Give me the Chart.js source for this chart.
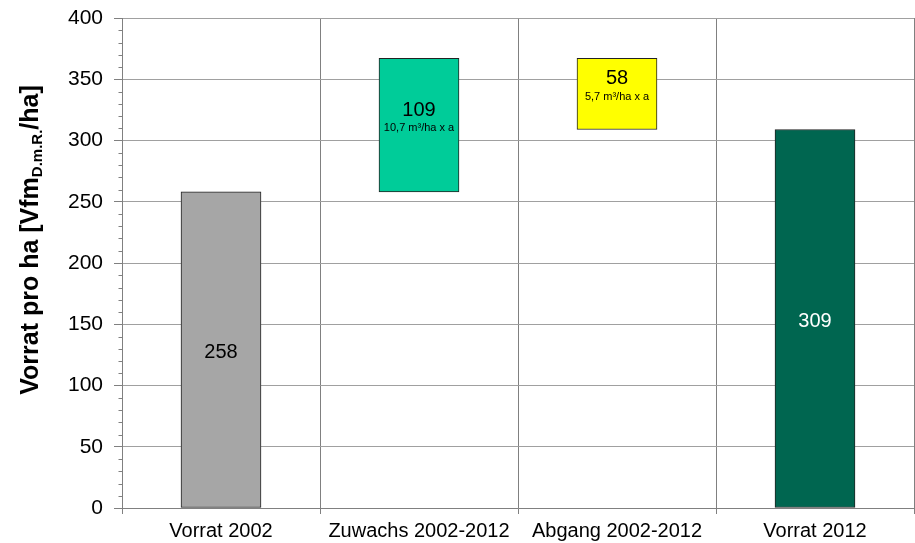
<!DOCTYPE html>
<html><head><meta charset="utf-8">
<script src="https://cdn.jsdelivr.net/npm/chart.js@4"></script>
<style>html,body{margin:0;padding:0;background:#fff}#wrap{width:915px;height:543px}</style>
</head><body><div id="wrap"><canvas id="c" width="915" height="543"></canvas></div>
<script>
const categories = ['Vorrat 2002', 'Zuwachs 2002-2012', 'Abgang 2002-2012', 'Vorrat 2012'];
const barStarts = [0, 258, 309, 0];
const barEnds = [258, 367, 367, 309];
const mainLabels = ['258', '109', '58', '309'];
const subLabels = ['', '10,7 m³/ha x a', '5,7 m³/ha x a', ''];
const barColors = ['#a6a6a6', '#00cc99', '#ffff00', '#006650'];
const labelColors = ['#000', '#000', '#000', '#fff'];
const yTicks = [0, 50, 100, 150, 200, 250, 300, 350, 400];
const yMinorStep = 10;

const FONT = '"Liberation Sans", Arial, sans-serif';

const labelPlugin = {
  id: 'barLabels',
  afterDatasetsDraw(chart) {
    const ctx = chart.ctx;
    const meta = chart.getDatasetMeta(0);
    ctx.save();
    ctx.textAlign = 'center';
    ctx.textBaseline = 'middle';
    meta.data.forEach((el, i) => {
      const cx = el.x;
      const mid = (el.y + el.base) / 2;
      ctx.fillStyle = labelColors[i];
      if (subLabels[i]) {
        ctx.font = '20px ' + FONT;
        ctx.fillText(mainLabels[i], cx, mid - 15);
        ctx.font = '11px ' + FONT;
        ctx.fillText(subLabels[i], cx, mid + 3);
      } else {
        ctx.font = '20px ' + FONT;
        ctx.fillText(mainLabels[i], cx, mid + 3);
      }
    });
    ctx.restore();
  }
};

const minorTickPlugin = {
  id: 'minorTicks',
  afterDraw(chart) {
    const y = chart.scales.y;
    const ctx = chart.ctx;
    const x0 = Math.round(chart.chartArea.left) + 0.5;
    ctx.save();
    ctx.strokeStyle = '#808080';
    ctx.lineWidth = 1;
    ctx.beginPath();
    for (let v = y.min; v <= y.max; v += yMinorStep) {
      if (yTicks.includes(v)) continue;
      const py = Math.round(y.getPixelForValue(v)) + 0.5;
      ctx.moveTo(x0 - 4, py);
      ctx.lineTo(x0, py);
    }
    ctx.stroke();
    ctx.restore();
  }
};

const yTitlePlugin = {
  id: 'yTitle',
  afterDraw(chart) {
    const ctx = chart.ctx;
    ctx.save();
    const parts = [
      {t: 'Vorrat pro ha [Vfm', f: 'bold 25px ' + FONT, dy: 0},
      {t: 'D.m.R.', f: 'bold 15px ' + FONT, dy: 7},
      {t: '/ha]', f: 'bold 25px ' + FONT, dy: 0}
    ];
    let total = 0;
    parts.forEach(p => { ctx.font = p.f; p.w = ctx.measureText(p.t).width; total += p.w; });
    ctx.translate(31, 240);
    ctx.rotate(-Math.PI / 2);
    ctx.fillStyle = '#000';
    ctx.textBaseline = 'middle';
    ctx.textAlign = 'left';
    let x = -total / 2;
    parts.forEach(p => { ctx.font = p.f; ctx.fillText(p.t, x, p.dy); x += p.w; });
    ctx.restore();
  }
};

new Chart(document.getElementById('c'), {
  type: 'bar',
  data: {
    labels: categories,
    datasets: [{
      data: barStarts.map((s, i) => [s, barEnds[i]]),
      backgroundColor: barColors,
      borderColor: '#222',
      borderWidth: 1,
      borderSkipped: false,
      barThickness: 80
    }]
  },
  options: {
    responsive: false,
    animation: false,
    layout: {padding: {left: 0, top: 18, right: 1, bottom: 0}},
    plugins: {legend: {display: false}, tooltip: {enabled: false}},
    scales: {
      x: {
        grid: {offset: true, color: '#808080', lineWidth: 1, tickLength: 6, tickColor: '#808080'},
        border: {color: '#808080'},
        ticks: {color: '#000', font: {family: FONT, size: 20}, padding: 5, maxRotation: 0},
        afterFit: s => { s.height = 35; }
      },
      y: {
        min: 0, max: 400,
        afterBuildTicks: s => { s.ticks = yTicks.map(v => ({value: v})); },
        grid: {color: '#a0a0a0', tickColor: '#808080', tickLength: 8, lineWidth: 1},
        border: {color: '#808080'},
        ticks: {
          autoSkip: false,
          color: '#000',
          font: {family: FONT, size: 21},
          padding: 11
        },
        afterFit: s => { s.width = 122; s.paddingTop = 0; s.paddingBottom = 0; }
      }
    }
  },
  plugins: [labelPlugin, minorTickPlugin, yTitlePlugin]
});
</script>
</body></html>
